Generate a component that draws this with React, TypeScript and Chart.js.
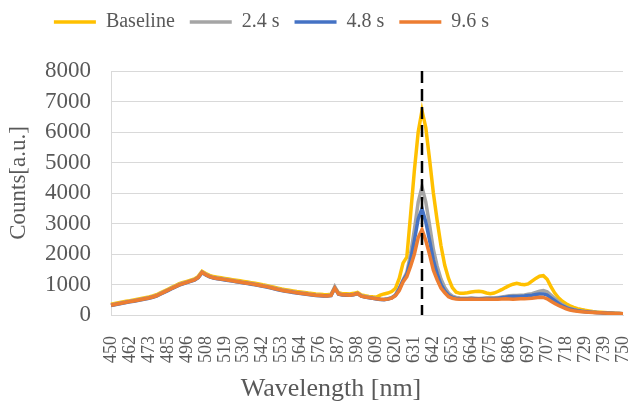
import React, { useEffect, useRef } from 'react';
import { Chart, registerables } from 'chart.js';

Chart.register(...registerables);

// Tick labels shown on the wavelength axis (nm)
const TICK_LABELS = [450, 462, 473, 485, 496, 508, 519, 530, 542, 553, 564, 576, 587, 598, 609, 620, 631, 642, 653, 664, 675, 686, 697, 707, 718, 729, 739, 750];
// Number of samples between two consecutive tick labels
const SAMPLES_PER_TICK = 5;

const SERIES_NAMES = ['Baseline', '2.4 s', '4.8 s', '9.6 s'];
const SERIES_COLORS = ['#FFC000', '#A5A5A5', '#4472C4', '#ED7D31'];

const X_TITLE = 'Wavelength [nm]';
const Y_TITLE = 'Counts[a.u.]';

const BASELINE = [
  350, 375, 400, 425, 450, 470, 495, 520, 545, 570,
  595, 625, 665, 725, 785, 845, 905, 965, 1025, 1065,
  1105, 1145, 1185, 1265, 1430, 1360, 1300, 1260, 1240, 1220,
  1200, 1180, 1160, 1140, 1120, 1100, 1080, 1060, 1040, 1015,
  990, 970, 940, 910, 880, 850, 830, 810, 790, 770,
  755, 740, 720, 705, 690, 680, 670, 665, 680, 900,
  730, 700, 695, 690, 710, 740, 660, 630, 610, 595,
  585, 650, 690, 720, 770, 870, 1200, 1700, 1900, 3300,
  4750, 6000, 6700, 6150, 5100, 4000, 3100, 2280, 1630, 1200,
  900, 750, 710, 710, 730, 755, 770, 780, 760, 720,
  700, 720, 770, 830, 900, 960, 1010, 1040, 1010, 990,
  1020, 1110, 1200, 1270, 1290, 1170, 930, 720, 560, 450,
  370, 300, 250, 210, 180, 155, 135, 115, 100, 90,
  80, 70, 62, 56, 50, 45,
];

const S_2_4 = [
  330, 355, 380, 405, 430, 450, 470, 495, 520, 545,
  570, 600, 640, 700, 760, 820, 880, 940, 1000, 1040,
  1080, 1120, 1160, 1240, 1410, 1330, 1270, 1230, 1210, 1190,
  1170, 1150, 1130, 1110, 1090, 1070, 1050, 1030, 1010, 985,
  960, 940, 910, 880, 850, 820, 800, 780, 760, 740,
  725, 710, 690, 675, 660, 650, 635, 630, 650, 930,
  700, 670, 660, 655, 675, 710, 630, 600, 580, 560,
  540, 525, 515, 535, 570, 660, 880, 1150, 1400, 2000,
  2800, 3700, 4200, 3700, 2950, 2150, 1600, 1180, 900, 720,
  620, 575, 555, 550, 550, 555, 550, 545, 550, 555,
  560, 560, 570, 590, 610, 630, 640, 640, 650, 660,
  680, 700, 740, 780, 800, 760, 650, 540, 430, 340,
  270, 215, 180, 150, 130, 115, 100, 90, 82, 75,
  68, 62, 57, 52, 48, 45,
];

const S_4_8 = [
  310, 335, 360, 385, 410, 430, 450, 475, 500, 525,
  550, 580, 620, 680, 740, 800, 860, 920, 980, 1020,
  1060, 1100, 1140, 1220, 1390, 1310, 1250, 1210, 1190, 1170,
  1150, 1130, 1110, 1090, 1070, 1050, 1030, 1010, 990, 965,
  940, 920, 890, 860, 830, 800, 780, 760, 740, 720,
  705, 690, 670, 655, 640, 630, 625, 620, 635, 880,
  685, 655, 650, 645, 665, 700, 615, 585, 565, 545,
  525, 510, 500, 525, 560, 645, 850, 1120, 1330, 1800,
  2450, 3150, 3490, 3050, 2450, 1800, 1350, 1000, 790, 650,
  580, 545, 530, 530, 535, 540, 535, 530, 535, 540,
  545, 545, 550, 565, 580, 600, 605, 610, 615, 625,
  640, 650, 670, 690, 690, 650, 560, 470, 380, 300,
  240, 195, 165, 140, 122, 108, 96, 86, 78, 72,
  66, 60, 55, 50, 47, 44,
];

const S_9_6 = [
  320, 345, 370, 395, 420, 440, 460, 485, 510, 535,
  560, 590, 630, 690, 750, 810, 870, 930, 990, 1030,
  1070, 1110, 1150, 1230, 1400, 1320, 1260, 1220, 1200, 1180,
  1160, 1140, 1120, 1100, 1080, 1060, 1040, 1020, 1000, 975,
  950, 930, 900, 870, 840, 810, 790, 770, 750, 730,
  715, 700, 680, 665, 650, 640, 630, 625, 640, 880,
  690, 660, 655, 650, 670, 705, 620, 590, 570, 550,
  530, 515, 505, 520, 555, 630, 800, 1080, 1260, 1600,
  2000, 2540, 2800, 2440, 1980, 1470, 1150, 880, 730, 600,
  550, 525, 515, 515, 520, 525, 520, 515, 520, 525,
  520, 515, 520, 525, 530, 525, 520, 525, 530, 535,
  540, 550, 565, 580, 575, 530, 450, 380, 310, 255,
  205, 165, 140, 122, 110, 100, 90, 82, 75, 70,
  65, 60, 55, 50, 47, 44,
];

const Y_MIN = 0;
const Y_MAX = 8000;
const Y_STEP = 1000;

const TEXT_COLOR = '#595959';
const GRID_COLOR = '#D9D9D9';
const FONT = "'Liberation Serif', 'Times New Roman', serif";

// Layout tweaks (pixels)
const TOP_SPACE = 26;
const BOTTOM_SPACE = 17;
const RIGHT_SPACE = 14;
const Y_AXIS_WIDTH = 111;
const LEGEND_SHIFT_X = -40;
const LEGEND_SHIFT_Y = -29;
const X_TITLE_SHIFT = -36;
const X_TITLE_BELOW = 74;
const Y_TITLE_X = 19;
const Y_TITLE_SHIFT = -10;

export default function App() {
  const canvasRef = useRef<HTMLCanvasElement | null>(null);

  useEffect(() => {
    if (!canvasRef.current) return;
    const count = BASELINE.length;
    const labels = Array.from({ length: count }, (_, i) =>
      i % SAMPLES_PER_TICK === 0 ? String(TICK_LABELS[i / SAMPLES_PER_TICK]) : ''
    );
    const series = [BASELINE, S_2_4, S_4_8, S_9_6];
    const peakIndex = BASELINE.indexOf(Math.max(...BASELINE));

    const markerLine = {
      id: 'markerLine',
      afterDatasetsDraw(chart: any) {
        const { ctx, scales } = chart;
        const x = scales.x.getPixelForValue(peakIndex);
        const yTop = scales.y.getPixelForValue(Y_MAX);
        const yBottom = scales.y.getPixelForValue(Y_MIN);
        ctx.save();
        ctx.strokeStyle = '#000000';
        ctx.lineWidth = 2.5;
        ctx.setLineDash([12, 6]);
        ctx.beginPath();
        ctx.moveTo(x, yTop);
        ctx.lineTo(x, yBottom);
        ctx.stroke();
        ctx.restore();
      },
    };

    const axisTitles = {
      id: 'axisTitles',
      afterDraw(chart: any) {
        const { ctx, chartArea } = chart;
        ctx.save();
        ctx.fillStyle = TEXT_COLOR;
        ctx.textAlign = 'center';
        ctx.textBaseline = 'middle';
        ctx.font = `26px ${FONT}`;
        ctx.fillText(
          X_TITLE,
          (chartArea.left + chartArea.right) / 2 + X_TITLE_SHIFT,
          chartArea.bottom + X_TITLE_BELOW
        );
        ctx.translate(Y_TITLE_X, (chartArea.top + chartArea.bottom) / 2 + Y_TITLE_SHIFT);
        ctx.rotate(-Math.PI / 2);
        ctx.font = `23px ${FONT}`;
        ctx.fillText(Y_TITLE, 0, 0);
        ctx.restore();
      },
    };

    const legendShift = {
      id: 'legendShift',
      afterLayout(chart: any) {
        const lg = chart.legend;
        if (lg) {
          lg.left += LEGEND_SHIFT_X;
          lg.right += LEGEND_SHIFT_X;
          lg.top += LEGEND_SHIFT_Y;
          lg.bottom += LEGEND_SHIFT_Y;
        }
      },
    };

    const chart = new Chart(canvasRef.current, {
      type: 'line',
      data: {
        labels,
        datasets: series.map((values, k) => ({
          label: SERIES_NAMES[k],
          data: values,
          borderColor: SERIES_COLORS[k],
          backgroundColor: SERIES_COLORS[k],
          borderWidth: 3.5,
          pointRadius: 0,
          tension: 0,
          fill: false,
          order: series.length - 1 - k,
        })),
      },
      options: {
        animation: false,
        responsive: true,
        maintainAspectRatio: false,
        layout: { padding: { top: TOP_SPACE, right: RIGHT_SPACE, bottom: BOTTOM_SPACE, left: 0 } },
        plugins: {
          tooltip: { enabled: false },
          legend: {
            position: 'top',
            labels: {
              usePointStyle: true,
              pointStyle: 'line',
              pointStyleWidth: 42,
              boxWidth: 42,
              padding: 15,
              color: TEXT_COLOR,
              font: { family: FONT, size: 20 },
              sort: (a: any, b: any) => a.datasetIndex - b.datasetIndex,
            },
          },
        },
        scales: {
          x: {
            type: 'category',
            offset: false,
            grid: { display: false, drawTicks: false },
            border: { display: true, color: GRID_COLOR, width: 1 },
            ticks: {
              autoSkip: false,
              maxRotation: 90,
              minRotation: 90,
              padding: 21,
              color: TEXT_COLOR,
              font: { family: FONT, size: 18 },
            },
            title: { display: false },
            afterFit: (scale: any) => {
              scale.paddingLeft = 0;
              scale.paddingRight = 0;
            },
          },
          y: {
            min: Y_MIN,
            max: Y_MAX,
            grid: { color: GRID_COLOR, lineWidth: 1, drawTicks: false },
            border: { display: true, color: GRID_COLOR, width: 1 },
            ticks: {
              stepSize: Y_STEP,
              autoSkip: false,
              padding: 20,
              color: TEXT_COLOR,
              font: { family: FONT, size: 23 },
              callback: (v: any) => String(v),
            },
            title: { display: false },
            afterFit: (scale: any) => {
              scale.width = Y_AXIS_WIDTH;
            },
          },
        },
      },
      plugins: [markerLine, axisTitles, legendShift],
    });

    return () => chart.destroy();
  }, []);

  return (
    <div style={{ position: 'absolute', left: 0, top: 0, width: 637, height: 401 }}>
      <canvas ref={canvasRef} />
    </div>
  );
}
